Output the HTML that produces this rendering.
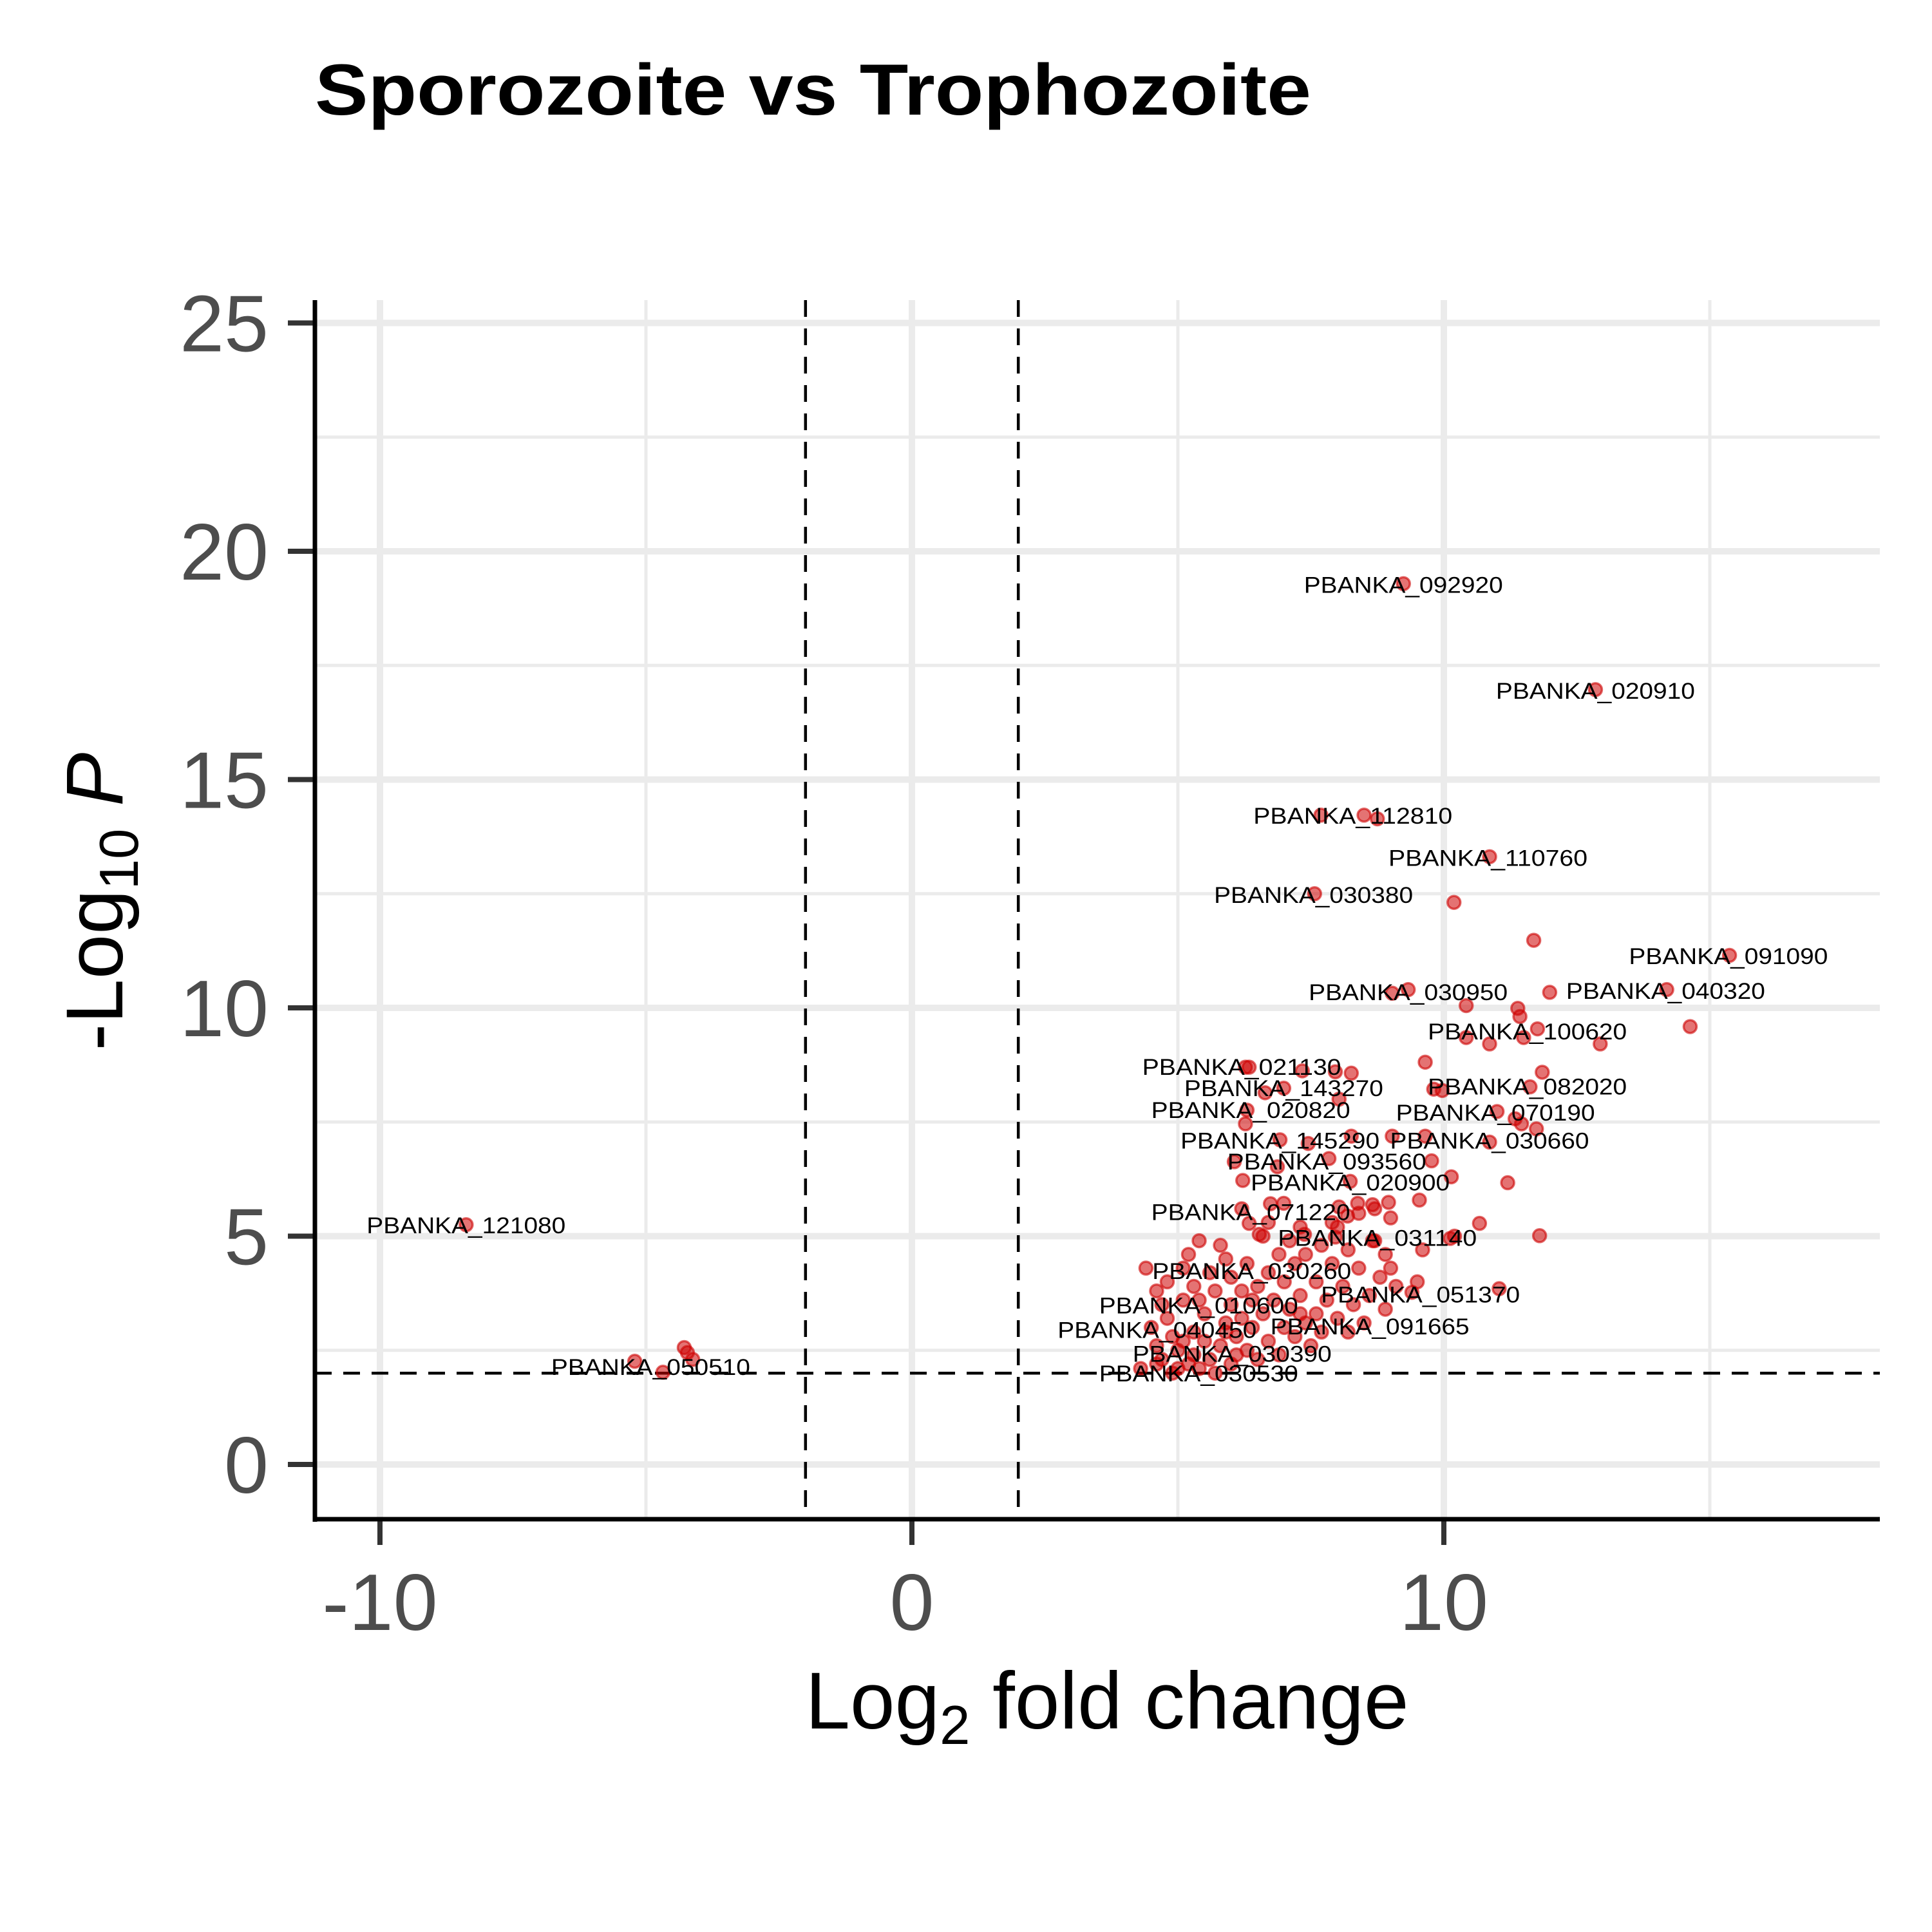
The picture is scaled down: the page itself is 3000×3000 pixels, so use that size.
<!DOCTYPE html>
<html><head><meta charset="utf-8"><style>
html,body{margin:0;padding:0;background:#fff;}
svg{display:block;font-family:"Liberation Sans",Arial,sans-serif;}
</style></head><body>
<svg id="chart" width="3000" height="3000" viewBox="0 0 3000 3000" xmlns="http://www.w3.org/2000/svg">
<rect x="0" y="0" width="3000" height="3000" fill="#fff"/>
<text x="489" y="178" font-size="112" font-weight="bold" textLength="1547" lengthAdjust="spacingAndGlyphs">Sporozoite vs Trophozoite</text>
<g id="grid"></g>
<g id="refs"></g>
<g id="pts"></g>
<g id="labels"></g>
<g id="axes"></g>
<text x="1719" y="2684" font-size="125" text-anchor="middle">Log<tspan font-size="85" dy="24">2</tspan><tspan dy="-24"> fold change</tspan></text>
<text transform="translate(190,1400) rotate(-90)" font-size="125" text-anchor="middle">-Log<tspan font-size="85" dy="24">10</tspan><tspan dy="-24" font-style="italic"> P</tspan></text>
</svg>
<script>
const xTicks = [-10, 0, 10];
const xMinor = [-5, 5, 15];
const yTicks = [0, 5, 10, 15, 20, 25];
const yMinor = [2.5, 7.5, 12.5, 17.5, 22.5];
const fcCut = [-2, 2];
const pCut = 2;
const points = [
[9.24,19.29],[12.85,16.97],[7.69,14.22],[8.5,14.22],[8.75,14.14],[10.86,13.31],[7.57,12.5],[10.19,12.31],[11.69,11.48],[15.37,11.15],[14.19,10.4],[9.33,10.4],[9.03,10.32],[11.99,10.34],[10.42,10.05],[11.39,9.99],[11.43,9.81],[14.63,9.59],[11.76,9.54],[10.42,9.35],[10.86,9.21],[11.5,9.35],[12.94,9.21],[11.04,3.85],[9.4,3.77],
[-8.38,5.25],[-5.21,2.26],[-4.28,2.56],[-4.22,2.45],[-4.68,2.02],[-4.12,2.3],
[9.65,8.81],[6.27,8.7],[6.34,8.7],[7.34,8.62],[7.96,8.6],[8.26,8.57],[11.85,8.59],[9.81,8.22],[9.97,8.19],[11.62,8.27],[6.99,8.24],[6.64,8.14],[8.03,8.0],[11.0,7.73],[11.34,7.57],[6.3,7.76],[6.27,7.46],[11.46,7.46],[11.74,7.35],[6.92,7.11],[7.45,7.03],[8.26,7.19],[9.03,7.19],[9.65,7.19],[10.86,7.06],[9.77,6.65],[6.06,6.63],[6.87,6.52],[7.84,6.7],[10.14,6.3],[6.22,6.22],[8.24,6.2],[11.2,6.17],[6.99,5.72],[8.03,5.64],[8.38,5.72],[8.66,5.69],[8.96,5.74],[9.54,5.79],[6.74,5.71],[6.34,5.28],[8.19,5.44],[10.67,5.28],[11.8,5.01],[6.53,5.04],[7.38,5.04],[7.96,4.98],[8.66,4.9],[10.12,4.95],
[4.4,4.3],[4.6,3.8],[4.7,3.5],[4.8,3.2],[4.5,3.0],[4.9,2.8],[5.0,2.5],[4.7,2.3],[5.2,2.2],[5.4,2.1],[4.9,2.0],[5.6,2.3],[5.8,2.6],[5.3,2.9],[5.5,3.3],[5.1,3.6],[5.3,3.9],[5.6,4.2],[5.2,4.6],[5.8,4.8],[5.9,4.5],[6.0,4.1],[6.2,3.8],[6.0,3.5],[5.9,3.1],[6.1,2.8],[6.3,2.5],[6.0,2.2],[6.5,2.3],[6.7,2.7],[6.4,3.0],[6.6,3.3],[6.8,3.6],[6.5,3.9],[6.7,4.2],[6.9,4.6],[7.1,4.9],[7.2,4.4],[7.0,4.0],[7.3,3.7],[7.1,3.4],[7.4,3.1],[7.2,2.8],[7.5,2.6],[7.7,2.9],[7.6,3.3],[7.8,3.6],[7.6,4.0],[7.9,4.4],[7.7,4.8],[8.0,5.2],[8.2,4.7],[8.4,4.3],[8.1,3.9],[8.3,3.5],[8.0,3.2],[8.2,2.9],[8.5,3.1],[8.6,3.7],[8.8,4.1],[8.9,4.6],[9.0,4.3],[8.7,4.9],[9.1,3.9],[8.9,3.4],[4.3,2.1],[4.6,2.6],[5.7,3.8],[6.3,4.4],[5.4,4.9],[5.1,4.3],[6.2,3.2],[7.0,3.0],[6.9,2.4],[5.5,2.7],[4.8,4.0],[6.6,5.0],[7.4,4.6],[8.4,5.5],[8.7,5.6],[9.0,5.4],[7.9,5.3],[7.3,5.2],[6.2,5.6],[6.7,5.3],[9.6,4.7],[9.5,4.0],[10.2,5.0],
[5.0,2.1],[5.3,2.4],[5.1,2.7],[5.7,2.0],[6.1,2.4],[5.4,3.6],[6.4,3.6],[7.3,3.3],[4.6,2.2],[5.9,2.9]
];
const labelNames = ["PBANKA_092920","PBANKA_020910","PBANKA_112810","PBANKA_110760","PBANKA_030380","PBANKA_091090","PBANKA_030950","PBANKA_040320","PBANKA_100620","PBANKA_021130","PBANKA_143270","PBANKA_082020","PBANKA_020820","PBANKA_070190","PBANKA_145290","PBANKA_030660","PBANKA_093560","PBANKA_020900","PBANKA_071220","PBANKA_031140","PBANKA_030260","PBANKA_051370","PBANKA_010600","PBANKA_040450","PBANKA_091665","PBANKA_030390","PBANKA_030530","PBANKA_121080","PBANKA_050510"];
const labelX = [9.24,12.85,8.29,10.83,7.55,15.35,9.33,14.17,11.57,6.2,6.99,11.57,6.37,10.97,6.92,10.86,7.8,8.24,6.37,8.75,6.39,9.56,5.39,4.61,8.61,6.02,5.39,-8.38,-4.91];
const labelY = [19.26,16.94,14.2,13.28,12.47,11.13,10.34,10.37,9.48,8.7,8.24,8.27,7.76,7.7,7.09,7.09,6.63,6.17,5.52,4.96,4.23,3.72,3.48,2.94,3.02,2.42,1.99,5.23,2.13];

const NS="http://www.w3.org/2000/svg";
const L=489, R=2919, T=466, B=2359;
function X(v){return 1416 + v*82.6;}
function Y(v){return 2274 - v*70.9;}
function mk(tag, attrs, parent){const e=document.createElementNS(NS,tag);for(const k in attrs)e.setAttribute(k,attrs[k]);parent.appendChild(e);return e;}
const grid=document.getElementById('grid');
yMinor.forEach(v=>{const e=mk('line',{x1:L,x2:R,y1:Y(v),y2:Y(v),stroke:'#ebebeb','stroke-width':5},grid);

});
xMinor.forEach(v=>{const e=mk('line',{x1:X(v),x2:X(v),y1:T,y2:B,stroke:'#ebebeb','stroke-width':5},grid);

});
yTicks.forEach(v=>{const e=mk('line',{x1:L,x2:R,y1:Y(v),y2:Y(v),stroke:'#ebebeb','stroke-width':10},grid);

});
xTicks.forEach(v=>{const e=mk('line',{x1:X(v),x2:X(v),y1:T,y2:B,stroke:'#ebebeb','stroke-width':10},grid);

});
const refs=document.getElementById('refs');
fcCut.forEach(v=>{const e=mk('line',{x1:X(v),x2:X(v),y1:T,y2:B,stroke:'#000','stroke-width':4.5,'stroke-dasharray':'26 18'},refs);

});
{const e=mk('line',{x1:L,x2:R,y1:Y(pCut),y2:Y(pCut),stroke:'#000','stroke-width':4.5,'stroke-dasharray':'26 18'},refs);

}
const pg=document.getElementById('pts');
points.forEach(p=>{const c=mk('circle',{cx:X(p[0]),cy:Y(p[1]),r:10,fill:'rgba(205,0,0,0.55)',stroke:'rgba(205,0,0,0.6)','stroke-width':3.5},pg);

});
const lg=document.getElementById('labels');
labelNames.forEach((n,i)=>{const t=mk('text',{x:X(labelX[i]),y:Y(labelY[i])+12,'font-size':35,'text-anchor':'middle',textLength:309,lengthAdjust:'spacingAndGlyphs',fill:'#000'},lg);
t.textContent=n;

});
const ax=document.getElementById('axes');
yTicks.forEach(v=>{const e=mk('line',{x1:447,x2:L,y1:Y(v),y2:Y(v),stroke:'#333','stroke-width':8},ax);


const t=mk('text',{x:417,y:Y(v)+44,'font-size':124,'text-anchor':'end',fill:'#4d4d4d'},ax);
t.textContent=String(v);

});
xTicks.forEach(v=>{const e=mk('line',{x1:X(v),x2:X(v),y1:B,y2:B+40,stroke:'#333','stroke-width':8},ax);


const t=mk('text',{x:X(v),y:2531,'font-size':124,'text-anchor':'middle',fill:'#4d4d4d'},ax);
t.textContent=String(v);

});
{const e=mk('line',{x1:L,x2:L,y1:T,y2:B+4,stroke:'#000','stroke-width':7},ax);


const f=mk('line',{x1:L-3,x2:R,y1:B,y2:B,stroke:'#000','stroke-width':7},ax);

}
</script>
</body></html>
